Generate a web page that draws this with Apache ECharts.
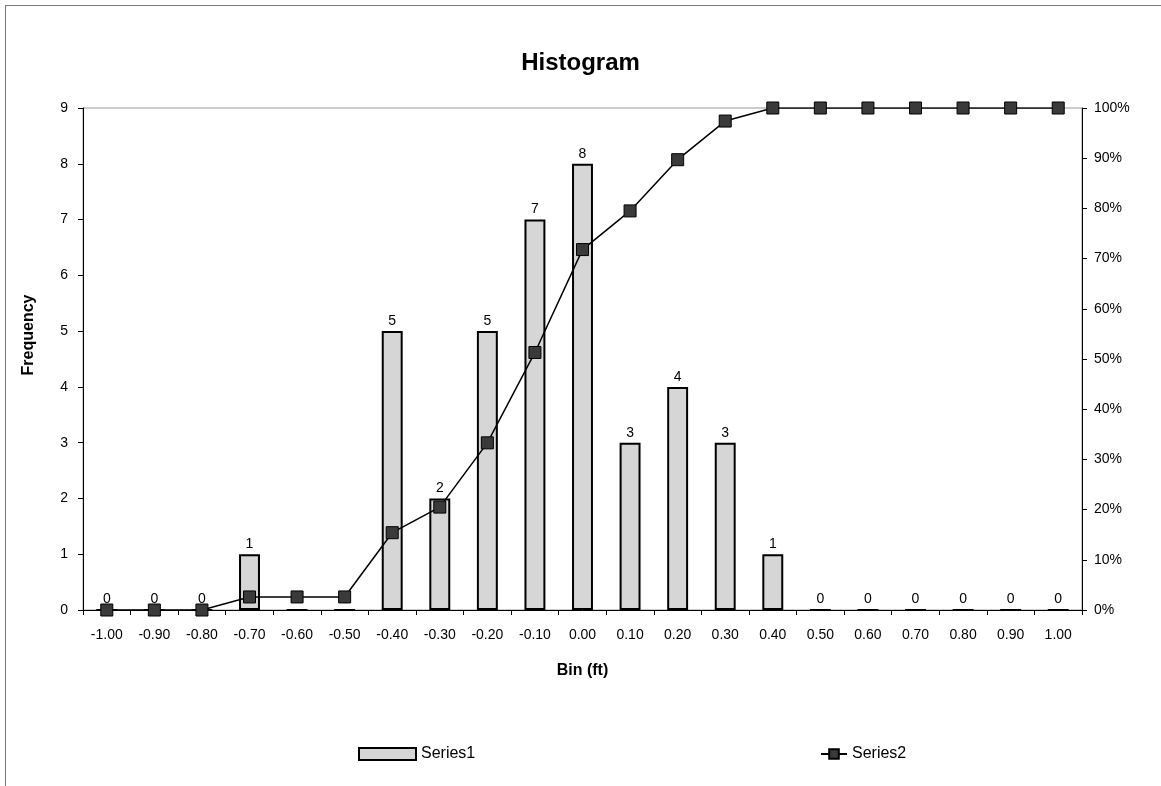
<!DOCTYPE html>
<html><head><meta charset="utf-8">
<script src="https://cdn.jsdelivr.net/npm/echarts@6/dist/echarts.min.js"></script>
<style>
html,body{margin:0;padding:0;background:#fff;}
#frame{position:absolute;left:5px;top:5px;width:1170px;height:800px;border-left:1px solid #777;border-top:1px solid #777;}
#chart{position:absolute;left:0;top:0;width:1161px;height:786px;}
</style></head>
<body><div id="frame"></div><div id="chart"></div>
<script>
const categories = ['-1.00','-0.90','-0.80','-0.70','-0.60','-0.50','-0.40','-0.30','-0.20','-0.10','0.00','0.10','0.20','0.30','0.40','0.50','0.60','0.70','0.80','0.90','1.00'];
const series1 = [0,0,0,1,0,0,5,2,5,7,8,3,4,3,1,0,0,0,0,0,0];
const series2 = [0,0,0,0.026,0.026,0.026,0.154,0.205,0.333,0.513,0.718,0.795,0.897,0.974,1,1,1,1,1,1,1];
const leftTicks = {min:0, max:9, interval:1};
const rightTicks = {min:0, max:1, interval:0.1};

const font = 'Arial, "Liberation Sans", sans-serif';
const chart = echarts.init(document.getElementById('chart'));
chart.setOption({
  backgroundColor: 'transparent',
  animation: false,
  textStyle: {fontFamily: font, color: '#000'},
  title: {text: 'Histogram', left: 'center', top: 46,
    textStyle: {fontFamily: font, fontSize: 24, fontWeight: 'bold', color: '#000'}},
  grid: {left: 83, right: 79, top: 108, bottom: 176, show: true, borderColor: '#999', borderWidth: 1},
  legend: [
    {data: [{name: 'Series1', icon: 'rect'}], left: 353, top: 741, itemWidth: 57, itemHeight: 12, itemGap: 4,
     textStyle: {fontFamily: font, fontSize: 16, color: '#000'}},
    {data: ['Series2'], left: 815, top: 741, itemWidth: 26, itemHeight: 12,
     textStyle: {fontFamily: font, fontSize: 16, color: '#000'}}
  ],
  xAxis: {
    type: 'category', data: categories, boundaryGap: true,
    name: 'Bin (ft)', nameLocation: 'middle', nameGap: 53,
    nameTextStyle: {fontFamily: font, fontSize: 16, fontWeight: 'bold', color: '#000'},
    axisLine: {lineStyle: {color: '#000', width: 1}},
    axisTick: {show: true, length: 5, lineStyle: {color: '#000'}},
    axisLabel: {fontFamily: font, fontSize: 14, color: '#000', margin: 18, interval: 0}
  },
  yAxis: [
    {type: 'value', min: leftTicks.min, max: leftTicks.max, interval: leftTicks.interval,
     name: 'Frequency', nameLocation: 'middle', nameGap: 46, nameRotate: 90,
     nameTextStyle: {fontFamily: font, fontSize: 16, fontWeight: 'bold', color: '#000', padding: [0,0,0,48]},
     axisLine: {show: true, lineStyle: {color: '#000'}},
     axisTick: {show: true, length: 5, lineStyle: {color: '#000'}},
     splitLine: {show: false},
     axisLabel: {fontFamily: font, fontSize: 14, color: '#000', margin: 15}},
    {type: 'value', min: rightTicks.min, max: rightTicks.max, interval: rightTicks.interval, position: 'right',
     axisLine: {show: true, lineStyle: {color: '#000'}},
     axisTick: {show: true, length: 5, lineStyle: {color: '#000'}},
     splitLine: {show: false},
     axisLabel: {fontFamily: font, fontSize: 14, color: '#000', margin: 12,
       formatter: v => Math.round(v * 100) + '%'}}
  ],
  series: [
    {name: 'Series1', type: 'bar', data: series1, barWidth: '44%', yAxisIndex: 0,
     itemStyle: {color: '#d6d6d6', borderColor: '#000', borderWidth: 2},
     label: {show: true, position: 'top', distance: 3, fontFamily: font, fontSize: 14, color: '#000'}},
    {name: 'Series2', type: 'line', data: series2, yAxisIndex: 1,
     symbol: 'rect', symbolSize: 12,
     lineStyle: {color: '#000', width: 1.5},
     itemStyle: {color: '#3a3a3a', borderColor: '#000', borderWidth: 1}}
  ]
});
</script></body></html>
